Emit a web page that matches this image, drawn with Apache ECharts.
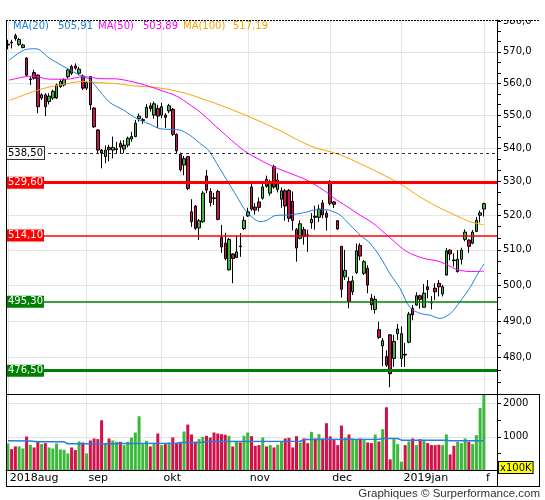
<!DOCTYPE html>
<html><head><meta charset="utf-8">
<script src="https://cdn.jsdelivr.net/npm/echarts@6/dist/echarts.min.js"></script>
<style>html,body{margin:0;padding:0;background:#fff}#c{width:545px;height:500px}</style>
</head><body><div id="c"></div>
<script>
// ---------- data ----------
const holidays = ['2018-12-25','2018-12-26','2019-01-01'];
const firstDay = '2018-08-03', lastDay = '2019-02-01';
const monthIdx = [0, 21, 41, 64, 86, 105, 127];
const monthLabels = ['2018aug','sep','okt','nov','dec','2019jan','f'];
const priceTicks = [480, 490, 500, 510, 520, 530, 540, 550, 560, 570, 580];
const volumeTicks = [1000, 2000];

const open = [572.2,573.1,575.2,572.4,571.4,568.0,561.2,563.4,562.6,555.4,
556.4,554.3,555.4,555.4,559.0,559.5,562.1,565.3,565.5,563.2,
562.3,558.5,562.1,552.3,545.5,539.4,537.4,540.2,539.4,539.6,
541.4,539.7,540.9,542.8,543.5,549.0,548.4,549.4,553.0,550.1,
552.2,550.1,550.1,551.4,551.9,544.1,538.1,534.9,537.4,521.0,
522.7,516.3,518.1,531.6,527.0,525.1,527.0,513.5,511.9,504.3,
508.8,507.8,511.1,516.1,519.8,528.3,522.4,523.9,525.0,530.6,
526.5,534.4,527.6,524.7,527.2,527.3,524.1,515.8,513.3,515.8,
514.3,517.8,519.7,519.4,523.6,520.6,529.9,523.9,518.4,511.0,
502.3,501.0,498.1,503.5,511.2,503.3,504.7,496.3,493.2,487.6,
483.2,480.3,486.2,479.8,486.5,479.8,480.9,484.2,493.5,494.4,
497.0,493.8,499.5,495.2,499.1,500.5,497.5,502.8,509.9,507.1,
503.8,507.3,513.0,512.8,511.9,515.3,520.0,521.8];
const close = [572.5,572.9,574.3,574.0,572.2,562.6,561.4,561.6,552.7,556.4,
552.7,556.0,557.5,559.5,560.6,561.2,564.2,563.2,564.8,564.5,
558.5,560.2,553.3,546.5,539.4,538.5,539.4,539.5,540.2,539.8,
540.3,540.9,543.0,543.5,547.6,549.8,548.7,552.5,552.1,553.6,
549.8,552.7,549.4,553.0,544.2,539.2,533.5,536.8,527.9,518.1,
516.2,518.4,526.5,527.4,523.7,524.9,518.8,510.8,507.5,513.0,
507.5,509.4,510.9,518.5,521.0,521.8,521.5,522.3,528.3,528.5,
529.9,528.3,530.4,527.2,522.7,519.1,518.5,510.5,517.5,513.9,
514.1,518.8,519.4,521.8,520.1,519.4,523.5,523.2,516.0,498.8,
504.1,495.4,501.2,509.7,508.2,506.6,500.0,494.5,496.0,485.5,
484.6,478.0,475.7,484.4,487.8,486.5,480.7,491.9,491.7,497.0,
496.0,497.7,498.7,495.0,498.1,499.5,499.5,509.7,508.8,506.9,
507.3,509.9,515.1,511.0,515.1,518.5,520.7,523.4];
const low = [570.8,571.1,573.6,571.9,571.1,562.1,559.5,561.2,550.7,554.8,
549.8,553.4,554.8,555.1,558.6,559.0,561.5,562.6,564.3,562.5,
557.9,557.9,551.7,546.1,538.4,533.9,535.4,536.0,536.9,538.4,
538.5,538.4,540.2,541.9,543.3,548.1,547.4,549.1,551.2,549.0,
546.1,549.2,546.1,550.7,543.7,538.4,532.9,531.8,527.4,516.6,
515.7,512.8,517.8,526.5,522.6,523.0,518.5,509.1,507.0,504.1,
500.5,507.6,508.0,515.7,519.5,521.3,520.2,521.1,524.6,528.1,
525.7,527.8,526.7,522.2,518.4,518.0,515.6,506.6,513.0,511.5,
509.4,516.1,515.8,518.0,519.1,515.5,522.9,522.1,515.8,496.5,
501.4,493.5,497.2,503.1,507.0,502.8,497.7,493.0,492.0,485.1,
477.7,477.5,472.1,477.5,484.8,477.5,477.5,483.9,490.2,494.2,
493.4,493.7,496.3,493.2,495.8,496.8,496.8,502.7,507.0,505.2,
503.5,505.8,512.4,509.1,511.6,515.1,517.9,519.6];
const high = [573.9,573.9,575.9,574.5,572.6,568.3,562.1,564.3,562.8,556.9,
556.9,556.9,558.0,559.9,561.3,561.6,564.8,565.9,566.3,565.2,
562.8,560.8,562.3,552.5,545.8,539.7,540.8,541.0,543.5,541.9,
542.3,542.4,543.5,545.0,548.6,550.6,549.2,553.5,553.9,554.3,
553.3,553.9,550.7,553.6,552.3,544.5,538.6,537.6,537.6,524.7,
523.0,518.9,527.1,533.4,528.0,526.6,527.5,517.2,514.9,513.4,
509.0,514.2,514.8,519.6,522.2,529.5,523.6,525.2,529.3,531.7,
530.5,535.0,532.4,528.2,527.7,527.7,527.0,516.3,518.5,516.6,
515.8,520.6,522.8,523.1,524.5,521.4,530.4,524.2,518.6,511.1,
510.0,502.3,502.6,511.8,511.9,507.1,505.6,497.5,497.0,489.8,
485.3,482.0,486.4,486.2,489.2,488.5,484.0,492.5,494.4,498.0,
497.3,500.3,501.4,496.9,500.5,501.4,500.0,510.5,510.2,509.0,
509.9,510.6,515.9,513.0,515.7,519.5,521.4,523.7];
const volume = [800,630,710,710,650,1010,760,680,850,780,
810,680,650,800,620,610,500,680,600,860,
830,500,890,950,930,1500,800,950,890,850,
850,750,850,980,1130,1620,780,880,710,810,
1100,750,780,830,980,810,810,1160,1370,1070,
850,930,1000,1030,980,1130,1100,1080,1060,1030,
710,850,830,1030,1130,1020,730,750,980,710,
750,680,760,850,950,970,680,1020,830,950,
810,1150,950,1080,950,1410,1010,910,750,1340,
980,1070,950,930,950,910,830,810,1070,860,
1230,1890,320,930,780,250,750,860,950,750,
930,910,810,750,750,760,750,1070,470,730,
850,810,950,850,780,1050,1870,2300];

// moving averages: [trading-day index, value]
const ma20 = [[0.3,567.3],[4.6,570.7],[7.5,571.0],[11.2,567.9],[15.7,564.8],[19.2,562.6],[21.9,561.1],[24.6,557.4],[27.2,554.0],[30.8,551.7],[34.4,549.0],[37.9,547.3],[40.6,545.9],[43.3,545.7],[45.9,545.5],[48.6,543.9],[51.3,541.4],[53.5,539.4],[55.7,535.4],[58.4,530.4],[61.1,525.5],[63.3,521.5],[65.5,519.1],[67.3,518.1],[69.1,518.5],[71.3,519.9],[75.3,520.1],[78.8,520.7],[82.4,521.6],[85.1,521.6],[86.8,521.0],[88.6,520.1],[91.3,517.2],[94.0,514.2],[96.6,511.9],[99.3,508.0],[102.0,503.1],[104.6,499.1],[107.3,493.7],[110.0,492.1],[112.6,491.6],[115.3,490.7],[118.0,492.0],[120.6,495.3],[123.3,499.3],[125.5,503.4],[127,505.91]];
const ma50 = [[0.3,561.0],[4.6,562.1],[6.7,562.3],[11.2,561.3],[15.7,561.3],[20.1,562.1],[24.6,561.5],[29.0,561.4],[35.3,559.9],[40.6,557.9],[45.0,556.0],[48.6,553.3],[51.3,551.0],[56.6,545.5],[62.8,539.4],[67.3,536.4],[70.8,534.4],[75.3,532.4],[79.7,530.4],[84.2,527.4],[87.7,524.5],[91.3,522.0],[93.1,520.6],[97.5,517.6],[102.0,513.4],[106.4,509.5],[110.8,507.6],[115.3,506.6],[119.8,504.4],[123.3,503.8],[127,503.89]];
const ma100 = [[0.3,554.6],[6.8,557.4],[11.2,558.9],[15.7,559.9],[20.1,560.6],[24.6,560.2],[29.0,559.9],[33.5,559.2],[37.9,558.9],[42.4,558.2],[47.7,556.8],[51.3,555.4],[56.6,553.2],[64.6,549.5],[72.6,545.3],[80.6,540.7],[88.6,538.0],[94.0,535.3],[99.3,532.4],[104.6,529.3],[110.8,524.8],[115.3,522.1],[119.8,519.8],[123.3,518.1],[127,517.19]];
const volMA = [[0,880],[6,875],[8,850],[15,850],[16,790],[29,790],[30,800],[45,805],[46,830],[52,835],[53,860],[78,865],[79,920],[99,925],[100,950],[104,950],[105,900],[117,895],[118,880],[127,885]];

const maNames = ['MA(20)','MA(50)','MA(100)'];
const maLast = [505.91, 503.89, 517.19];
const levels = [538.5, 529.6, 514.1, 495.3, 476.5];

// ---------- styling ----------
const FONT = 'DejaVu Sans';
const UP = '#3cb83c', DOWN = '#d4104a';
const C20 = '#1f80e0', C50 = '#ff00ff', C100 = '#ffa000';
const maColors = [C20, C50, C100];
const legendX = [[13, 58], [98, 143], [183, 233]];
const GRIDC = '#e4e4e4';
const levelStyles = [
  {line:{color:'#333', type:[3,3], width:1}, bg:'#fff', fg:'#000', border:'#333'},
  {line:{color:'#ff0000', type:'solid', width:3}, bg:'#ff0000', fg:'#fff'},
  {line:{color:'#ff0000', type:'solid', width:1.5}, bg:'#ff0000', fg:'#fff'},
  {line:{color:'#008000', type:'solid', width:1.5}, bg:'#008000', fg:'#fff'},
  {line:{color:'#008000', type:'solid', width:3}, bg:'#008000', fg:'#fff'}
];

function tradingDays(a, b) {
  const out = []; const d = new Date(a + 'T00:00:00Z'); const e = new Date(b + 'T00:00:00Z');
  while (d <= e) {
    const wd = d.getUTCDay(); const s = d.toISOString().slice(0, 10);
    if (wd !== 0 && wd !== 6 && holidays.indexOf(s) < 0) out.push(s);
    d.setUTCDate(d.getUTCDate() + 1);
  }
  return out;
}
const dates = tradingDays(firstDay, lastDay);
const categories = dates.concat(['p1', 'p2', 'p3']);
const labelAt = {}; monthIdx.forEach((i, k) => labelAt[i] = monthLabels[k]);
const fmt = (v, d) => v.toFixed(d).replace('.', ',');

// tick marks: each labelled price plus two minor ticks between
const priceTickMarks = [];
[470].concat(priceTicks).forEach(t => { priceTickMarks.push(t, t + 10 / 3, t + 20 / 3); });
const volTickMarks = [500, 1000, 1500, 2000];

const gridMarks = monthIdx.map(i => ({xAxis: categories[i]}))
  .concat(priceTicks.slice(0, -1).map(t => ({yAxis: t})));
const volGridMarks = monthIdx.map(i => ({xAxis: categories[i]}))
  .concat(volumeTicks.map(t => ({yAxis: t})));

const legendGraphics = [];
maNames.forEach((n, k) => {
  legendGraphics.push({type: 'text', z: 60, left: legendX[k][0], top: 21,
    style: {text: n, font: '10px "DejaVu Sans"', fill: maColors[k]}});
  legendGraphics.push({type: 'text', z: 60, left: legendX[k][1], top: 21,
    style: {text: fmt(maLast[k], 2), font: '10px "DejaVu Sans"', fill: maColors[k]}});
});

const noZero = {show: false, onZero: false};
const chart = echarts.init(document.getElementById('c'), null, {renderer: 'canvas'});
const option = {
  animation: false,
  textStyle: {fontFamily: FONT},
  grid: [
    {left: 6, top: 20, width: 491, height: 374, outerBoundsMode: 'none', containLabel: false},
    {left: 6, top: 395, width: 491, height: 75, outerBoundsMode: 'none', containLabel: false}
  ],
  xAxis: [
    {type: 'category', gridIndex: 0, data: categories, boundaryGap: true,
     axisLine: noZero, axisTick: {show: false}, axisLabel: {show: false}, splitLine: {show: false}},
    {type: 'value', gridIndex: 0, min: -0.5, max: 130.5, show: false,
     axisLine: noZero, axisTick: {show: false}, axisLabel: {show: false}, splitLine: {show: false}},
    {type: 'category', gridIndex: 1, data: categories, boundaryGap: true,
     axisLine: {show: true, onZero: false, lineStyle: {color: '#000'}}, axisTick: {show: false}, splitLine: {show: false},
     axisLabel: {interval: (i) => labelAt[i] !== undefined, formatter: (v, i) => labelAt[i] || '',
       align: 'left', padding: [0, 0, 0, 2], fontSize: 11, color: '#000', margin: 3, fontFamily: FONT, hideOverlap: false}},
    {type: 'value', gridIndex: 1, min: -0.5, max: 130.5, show: false,
     axisLine: noZero, axisTick: {show: false}, axisLabel: {show: false}, splitLine: {show: false}}
  ],
  yAxis: [
    {type: 'log', logBase: 10, gridIndex: 0, position: 'right', min: 470.3, max: 580.3,
     axisLine: {show: true, onZero: false, lineStyle: {color: '#000'}},
     axisTick: {show: true, length: 4, lineStyle: {color: '#000'}, customValues: priceTickMarks.filter(t => t > 470.3 && t <= 580.3)},
     minorTick: {show: false},
     axisLabel: {customValues: priceTicks, formatter: v => fmt(Number(v), 1), fontSize: 10, color: '#000', margin: 6, fontFamily: FONT, hideOverlap: false},
     splitLine: {show: false}, minorSplitLine: {show: false}},
    {type: 'value', gridIndex: 1, position: 'right', min: 0, max: 2260,
     axisLine: {show: true, onZero: false, lineStyle: {color: '#000'}},
     axisTick: {show: true, length: 4, lineStyle: {color: '#000'}, customValues: volTickMarks},
     axisLabel: {customValues: volumeTicks, formatter: v => String(Math.round(v)), fontSize: 10, color: '#000', margin: 6, fontFamily: FONT},
     splitLine: {show: false}}
  ],
  series: [
    {type: 'candlestick', xAxisIndex: 0, yAxisIndex: 0, barWidth: 3,
     data: open.map((o, i) => [o, close[i], low[i], high[i]]),
     itemStyle: {color: UP, color0: DOWN, borderColor: '#000', borderColor0: '#000', borderWidth: 1},
     markLine: {silent: true, z: 1, symbol: ['none', 'none'], label: {show: false},
       lineStyle: {color: GRIDC, type: 'solid', width: 1}, emphasis: {disabled: true}, data: gridMarks}},
    {type: 'line', name: 'MA100', xAxisIndex: 1, yAxisIndex: 0, data: ma100, showSymbol: false, smooth: 0.3,
     lineStyle: {color: C100, width: 1}, z: 3, silent: true,
     markLine: {silent: true, z: 6, symbol: ['none', 'none'], emphasis: {disabled: true},
       data: levels.map((v, k) => ({
         yAxis: v, lineStyle: levelStyles[k].line,
         label: {show: true, position: 'insideStart', distance: [1, 0], formatter: fmt(v, 2),
           color: levelStyles[k].fg, backgroundColor: levelStyles[k].bg,
           borderColor: levelStyles[k].border || levelStyles[k].bg, borderWidth: levelStyles[k].border ? 1 : 0,
           padding: [1, 1, 0, 1], fontSize: 10, lineHeight: 11, fontFamily: FONT}
       }))}},
    {type: 'line', name: 'MA50', xAxisIndex: 1, yAxisIndex: 0, data: ma50, showSymbol: false, smooth: 0.3,
     lineStyle: {color: C50, width: 1}, z: 3, silent: true},
    {type: 'line', name: 'MA20', xAxisIndex: 1, yAxisIndex: 0, data: ma20, showSymbol: false, smooth: 0.3,
     lineStyle: {color: C20, width: 1}, z: 3, silent: true},
    {type: 'bar', xAxisIndex: 2, yAxisIndex: 1, barWidth: 3,
     data: volume.map((v, i) => ({value: v, itemStyle: {color: close[i] >= open[i] ? UP : DOWN}})),
     markLine: {silent: true, z: 1, symbol: ['none', 'none'], label: {show: false},
       lineStyle: {color: GRIDC, type: 'solid', width: 1}, emphasis: {disabled: true}, data: volGridMarks}},
    {type: 'line', xAxisIndex: 3, yAxisIndex: 1, data: volMA, showSymbol: false,
     lineStyle: {color: C20, width: 1.5}, z: 3, silent: true}
  ],
  graphic: legendGraphics.concat([
    {type: 'rect', z: 55, shape: {x: 498, y: 0, width: 47, height: 20}, style: {fill: '#fff'}},
    {type: 'line', z: 56, shape: {x1: 6.5, y1: 20, x2: 6.5, y2: 486.5}, style: {stroke: '#000', lineWidth: 1}},
    {type: 'line', z: 56, shape: {x1: 6, y1: 20.5, x2: 540, y2: 20.5}, style: {stroke: '#000', lineWidth: 1, lineDash: [2, 1]}},
    {type: 'line', z: 56, shape: {x1: 6, y1: 394.5, x2: 540, y2: 394.5}, style: {stroke: '#000', lineWidth: 1}},
    {type: 'line', z: 56, shape: {x1: 6, y1: 486.5, x2: 540, y2: 486.5}, style: {stroke: '#000', lineWidth: 1}},
    {type: 'line', z: 56, shape: {x1: 539.5, y1: 394.5, x2: 539.5, y2: 486.5}, style: {stroke: '#000', lineWidth: 1}},
    {type: 'line', z: 56, shape: {x1: 497.5, y1: 20, x2: 497.5, y2: 486.5}, style: {stroke: '#000', lineWidth: 1}},
    {type: 'text', z: 60, left: 498, top: 461,
     style: {text: 'x100K', font: '10px "DejaVu Sans"', fill: '#000', backgroundColor: '#ffff00', borderColor: '#000', borderWidth: 1, padding: [1, 1, 0, 1]}},
    {type: 'text', z: 60, right: 5, top: 488,
     style: {text: 'Graphiques © Surperformance.com', font: '11.5px "Liberation Sans"', fill: '#333'}}
  ])
};
chart.setOption(option);
</script></body></html>
